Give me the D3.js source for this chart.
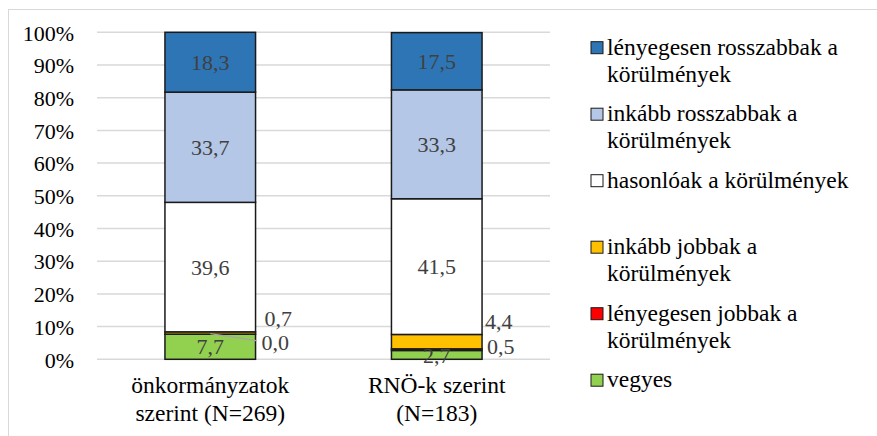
<!DOCTYPE html>
<html>
<head>
<meta charset="utf-8">
<script src="https://cdn.jsdelivr.net/npm/d3@7"></script>
<style>
  html, body { margin: 0; padding: 0; background: #fff; }
  svg { display: block; }
</style>
</head>
<body>
<svg id="chart" width="877" height="436"></svg>
<script>
// ---- data ----
const categories = [["önkormányzatok", "szerint (N=269)"], ["RNÖ-k szerint", "(N=183)"]];
const seriesNames = [
  "vegyes",
  "lényegesen jobbak a körülmények",
  "inkább jobbak a körülmények",
  "hasonlóak a körülmények",
  "inkább rosszabbak a körülmények",
  "lényegesen rosszabbak a körülmények"
];
const legendLines = [
  ["vegyes"],
  ["lényegesen jobbak a", "körülmények"],
  ["inkább jobbak a", "körülmények"],
  ["hasonlóak a körülmények"],
  ["inkább rosszabbak a", "körülmények"],
  ["lényegesen rosszabbak a", "körülmények"]
];
const onkormanyzatok = [7.7, 0.0, 0.7, 39.6, 33.7, 18.3];
const rnok = [2.7, 0.5, 4.4, 41.5, 33.3, 17.5];
const yTicks = [0, 0.1, 0.2, 0.3, 0.4, 0.5, 0.6, 0.7, 0.8, 0.9, 1.0];

// ---- styles ----
const colors = ["#92D050", "#FF0000", "#FFC000", "#FFFFFF", "#B4C7E7", "#2E75B6"];
const values = [onkormanyzatok, rnok];
const FONT = "Liberation Serif";
const fontSize = 22;
const textSize = 23.5;

const svg = d3.select("#chart");

// chart border
svg.append("rect").attr("x", 8.5).attr("y", 9.5).attr("width", 900).attr("height", 500)
  .attr("fill", "none").attr("stroke", "#d9d9d9").attr("stroke-width", 1);

const x = d3.scaleBand().domain(d3.range(categories.length)).range([97, 550]).paddingInner(0.6).paddingOuter(0.3);
const y = d3.scaleLinear().domain([0, 1]).range([359.3, 32.3]);

// gridlines
svg.append("g").selectAll("line").data(yTicks).join("line")
  .attr("x1", 97).attr("x2", 550)
  .attr("y1", d => y(d)).attr("y2", d => y(d))
  .attr("stroke", "#d9d9d9").attr("stroke-width", 1.5);

// y axis labels
const yAxis = d3.axisLeft(y).tickValues(yTicks).tickFormat(d3.format(".0%")).tickSize(0).tickPadding(0);
const ya = svg.append("g").attr("transform", "translate(74,0)").call(yAxis)
  .attr("font-family", FONT).attr("font-size", fontSize);
ya.select(".domain").remove();
ya.selectAll("text").attr("fill", "#000").attr("dy", "0.35em");

// stacked data
const rows = values.map((vals, i) => {
  const o = { cat: i };
  vals.forEach((v, j) => o["s" + j] = v / 100);
  return o;
});
const stack = d3.stack().keys(seriesNames.map((_, j) => "s" + j));
const stacked = stack(rows);

const gBars = svg.append("g");
stacked.forEach((layer, j) => {
  gBars.selectAll(null).data(layer).join("rect")
    .attr("x", d => x(d.data.cat))
    .attr("width", x.bandwidth())
    .attr("y", d => y(d[1]))
    .attr("height", d => Math.max(0, y(d[0]) - y(d[1])))
    .attr("fill", colors[j])
    .attr("stroke", "#1a1a1a")
    .attr("stroke-width", 1.5);
});

// data labels
const fmt = v => d3.format(".1f")(v).replace(".", ",");
const outside = {
  "0-1": { dx: 6, y: 342.7, leader: true },
  "0-2": { dx: 9, y: 318 },
  "1-1": { dx: 5, y: 346 },
  "1-2": { dx: 3, y: 321.7 }
};
const gLab = svg.append("g").attr("font-size", fontSize).attr("font-family", FONT).attr("fill", "#404040");
stacked.forEach((layer, j) => {
  layer.forEach(d => {
    const c = d.data.cat;
    const v = values[c][j];
    const key = c + "-" + j;
    if (outside[key]) {
      const o = outside[key];
      const right = x(c) + x.bandwidth();
      if (o.leader) {
        gLab.append("line")
          .attr("x1", x(c) + x.bandwidth() / 2).attr("y1", y(d[1]) - 0.5)
          .attr("x2", right + 1).attr("y2", o.y - 2)
          .attr("stroke", "#a6a6a6").attr("stroke-width", 1.2);
      }
      gLab.append("text").attr("x", right + o.dx).attr("y", o.y).attr("dy", "0.35em")
        .attr("text-anchor", "start").text(fmt(v));
    } else {
      gLab.append("text")
        .attr("x", x(c) + x.bandwidth() / 2)
        .attr("y", (y(d[0]) + y(d[1])) / 2)
        .attr("dy", "0.35em").attr("text-anchor", "middle").text(fmt(v));
    }
  });
});

// category labels
const gCat = svg.append("g").attr("font-size", textSize).attr("font-family", FONT).attr("fill", "#000").attr("text-anchor", "middle");
categories.forEach((lines, i) => {
  lines.forEach((ln, k) => {
    gCat.append("text").attr("x", x(i) + x.bandwidth() / 2).attr("y", 385 + k * 28)
      .attr("dy", "0.35em").text(ln);
  });
});

// legend
const legendOrder = d3.range(seriesNames.length).reverse();
const ly = d3.scalePoint().domain(legendOrder).range([47.7, 380.2]);
const gLeg = svg.append("g").attr("font-size", textSize).attr("font-family", FONT).attr("fill", "#000");
legendOrder.forEach(j => {
  const cy = ly(j);
  gLeg.append("rect").attr("x", 591).attr("y", cy - 6).attr("width", 12).attr("height", 12)
    .attr("fill", colors[j]).attr("stroke", "#1a1a1a").attr("stroke-width", 1);
  legendLines[j].forEach((ln, k) => {
    gLeg.append("text").attr("x", 607).attr("y", cy + 7 + k * 27).text(ln);
  });
});
</script>
</body>
</html>
